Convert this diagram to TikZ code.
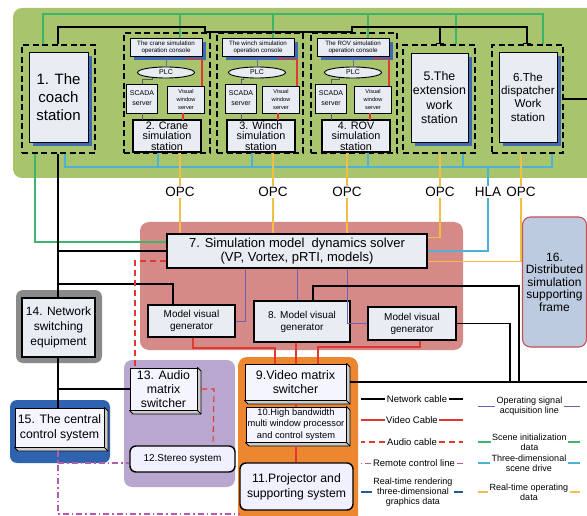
\documentclass[tikz,border=0pt]{standalone}
\usepackage{fontspec}
\setmainfont{Liberation Sans}
\usetikzlibrary{shadows,calc,arrows.meta,shapes.geometric}
\definecolor{panelgreen}{HTML}{A8C46C}
\definecolor{boxfill}{HTML}{E8ECF3}
\definecolor{shblue}{HTML}{3E6BB4}
\definecolor{panelred}{HTML}{D68A88}
\definecolor{panelpurple}{HTML}{B9A7CF}
\definecolor{panelorange}{HTML}{EC8730}
\definecolor{panelblue}{HTML}{2F63B0}
\definecolor{panelgray}{HTML}{8A8A8A}
\definecolor{fillsixteen}{HTML}{BCCBE0}
\definecolor{drawsixteen}{HTML}{C75252}
\definecolor{cgreen}{HTML}{3DB56B}
\definecolor{cteal}{HTML}{4DB3D6}
\definecolor{cyellow}{HTML}{F3BE45}
\definecolor{cred}{HTML}{E03A30}
\definecolor{cpurple}{HTML}{6C62B0}
\definecolor{cremote}{HTML}{B45BAA}
\definecolor{cdkblue}{HTML}{1E5E9C}
\definecolor{cgray}{HTML}{5A5A6A}

\newcommand{\mkstation}[9]{%
 \node[dashbox, minimum width=86pt, minimum height=120pt] (#1dash) at (#2,93) {};
 \node[stbox, minimum width=72pt, minimum height=18pt, font=\fontsize{6.2}{7.4}\selectfont] (#1con) at (#3,47.5) {#8};
 \node[plcnode] (#1plc) at (#4,72.5) {PLC};
 \node[wbox, minimum width=31pt, minimum height=29pt, font=\fontsize{7}{10}\selectfont] (#1scada) at (#5,98.5) {SCADA\\server};
 \node[wbox, minimum width=37pt, minimum height=27pt, font=\fontsize{5.6}{7.6}\selectfont] (#1vis) at (#6,99.5) {Visual\\window\\server};
 \node[wbox, line width=1.1pt, minimum width=68pt, minimum height=32pt, font=\fontsize{10.8}{10.5}\selectfont] (#1st) at (#7,136) {#9};
 \draw[opsig] (#1con.south -| #1plc.north) -- (#1plc.north);
 \draw[ingray] ($(#1plc.south)+(-14,0)$) |- ($(#1scada.north)+(0,-4)$) -- (#1scada.north);
 \draw[vid] ($(#1con.south)+(22,0)$) -- ++(0,3) -| ($(#1vis.north east)+(-3,0)$);
 \draw[vid] ($(#1vis.south)+(-3,0)$) -- ($(#1vis.south)+(-3,7)$);
 \draw[ingray] (#1scada.south) -- ++(0,7);
}
% 3D side faces of a bevelled box
\newcommand{\bevelfaces}[1]{%
 \filldraw[fill=gray!40, line width=0.8pt, line join=round] (#1.north east) -- ++(3.5,3.5) -- ($(#1.south east)+(3.5,3.5)$) -- ($(#1.south west)+(3.5,3.5)$) -- (#1.south west) -- (#1.south east) -- cycle;
 \draw[line width=0.8pt] (#1.south east) -- ++(3.5,3.5);
}

\begin{document}
\begin{tikzpicture}[x=1pt,y=-1pt,
  wbox/.style={draw, line width=0.9pt, fill=boxfill, align=center, inner sep=0.5pt},
  stbox/.style={wbox, drop shadow={shadow xshift=4pt, shadow yshift=-4pt, fill=shblue, opacity=1}},
  dashbox/.style={draw, line width=1.3pt, dash pattern=on 6pt off 3.5pt},
  bevel/.style={wbox, fill=white!96!blue, line width=1pt},
  rbox/.style={wbox, rounded corners=6pt, line width=1.4pt, fill=white!94!blue},
  plcnode/.style={draw, ellipse, fill=boxfill, line width=0.9pt, minimum width=57pt, minimum height=11pt, inner sep=0pt, font=\fontsize{7}{8}\selectfont},
  lbl/.style={font=\fontsize{13.5}{14}\selectfont, inner sep=1pt},
  lg/.style={font=\fontsize{9.5}{10.3}\selectfont, align=center, inner sep=1.5pt},
  lgtwo/.style={font=\fontsize{9}{10.3}\selectfont, align=center, inner sep=1.5pt},
  netc/.style={line width=1.1pt, black},
  grn/.style={line width=1.1pt, cgreen},
  tealc/.style={line width=1.1pt, cteal},
  yel/.style={line width=1.1pt, cyellow},
  vid/.style={line width=1.1pt, cred},
  aud/.style={line width=1.1pt, cred, dash pattern=on 6pt off 4pt},
  opsig/.style={line width=1pt, cpurple},
  remc/.style={line width=1.2pt, cremote, dash pattern=on 6pt off 3pt on 1.5pt off 3pt},
  rend/.style={line width=1.1pt, cdkblue},
  ingray/.style={line width=1pt, cgray}
]
\useasboundingbox (0,0) rectangle (587,516);
\clip (0,0) rectangle (587,516);

% panels
\fill[panelgreen, rounded corners=9pt] (13,8) rectangle (610,178);
\fill[panelred, rounded corners=9pt] (140,222) rectangle (463,350);
\fill[panelpurple, rounded corners=8pt] (124,360) rectangle (235,487);
\fill[panelorange, rounded corners=9pt] (238,357) rectangle (358,540);
\fill[panelgray, rounded corners=7pt] (16,290) rectangle (102,363);
\fill[panelblue, rounded corners=7pt] (10,400) rectangle (110,463);

% workstations
\node[dashbox, minimum width=73pt, minimum height=108pt] (coachdash) at (58.5,99) {};
\node[stbox, minimum width=59pt, minimum height=90pt, font=\fontsize{15}{18}\selectfont] (coach) at (58.5,97) {1. The\\coach\\station};

\mkstation{crane}{167}{166}{166}{142}{186}{167}{The crane simulation\\operation console}{2. Crane\\simulation\\station}
\mkstation{winch}{260}{258}{257}{241}{281}{261}{The winch simulation\\operation console}{3. Winch\\simulation\\station}
\mkstation{rov}{354}{353}{353}{331}{373}{356}{The ROV simulation\\operation console}{4. ROV\\simulation\\station}

\node[dashbox, minimum width=72pt, minimum height=108pt] (extdash) at (439,99) {};
\node[stbox, minimum width=57pt, minimum height=89pt, font=\fontsize{12.4}{14.5}\selectfont] (ext) at (439.5,97.5) {5.The\\extension\\work\\station};
\node[dashbox, minimum width=71pt, minimum height=108pt] (dispdash) at (527.5,99) {};
\node[stbox, minimum width=58pt, minimum height=90pt, font=\fontsize{11.6}{13.3}\selectfont] (disp) at (528,97) {6.The\\dispatcher\\Work\\station};

% labels
\node[lbl] (opc1) at (180,192) {OPC};
\node[lbl] (opc2) at (273,192) {OPC};
\node[lbl] (opc3) at (347,192) {OPC};
\node[lbl] (opc4) at (440,192) {OPC};
\node[lbl] (hla) at (488,192) {HLA};
\node[lbl] (opc5) at (521,192) {OPC};

% solver area
\node[wbox, line width=1.3pt, minimum width=260pt, minimum height=34pt, font=\fontsize{13}{13.5}\selectfont] (solver) at (297,251) {7. Simulation model\ \ dynamics solver\\(VP, Vortex, pRTI, models)};
\node[wbox, line width=1.3pt, minimum width=87pt, minimum height=32pt, font=\fontsize{10}{12}\selectfont] (mvga) at (191.5,321) {Model visual\\generator};
\node[wbox, line width=1.3pt, minimum width=96pt, minimum height=41pt, font=\fontsize{10}{12}\selectfont] (mvgb) at (302,321.5) {8. Model visual\\generator};
\node[wbox, line width=1.3pt, minimum width=88pt, minimum height=33pt, font=\fontsize{10}{12}\selectfont] (mvgc) at (412,323.5) {Model visual\\generator};

\node[draw=drawsixteen, fill=fillsixteen, line width=1.1pt, rounded corners=8pt, minimum width=63pt, minimum height=130pt, align=center, font=\fontsize{12}{12.5}\selectfont] (dssf) at (554.5,282) {16.\\Distributed\\simulation\\supporting\\frame};

\node[wbox, line width=1.2pt, minimum width=73pt, minimum height=59pt, font=\fontsize{12}{14.7}\selectfont] (nse) at (58.5,327.5) {14. Network\\switching\\equipment};
\node[bevel, minimum width=89pt, minimum height=39pt, font=\fontsize{12.3}{15}\selectfont] (ccs) at (59.5,427.5) {15. The central\\control system};
\bevelfaces{ccs}
\node[bevel, minimum width=67pt, minimum height=42pt, font=\fontsize{12.3}{14.2}\selectfont] (asw) at (163.5,389) {13. Audio\\matrix\\switcher};
\bevelfaces{asw}
\node[rbox, minimum width=105pt, minimum height=26pt, font=\fontsize{10}{12}\selectfont] (stereo) at (182.5,459) {12.Stereo system};

\node[bevel, minimum width=101pt, minimum height=36pt, font=\fontsize{12.4}{14.3}\selectfont] (vms) at (295.5,382) {9.Video matrix\\switcher};
\bevelfaces{vms}
\node[bevel, minimum width=100pt, minimum height=35pt, font=\fontsize{9.3}{11.3}\selectfont] (hbw) at (296,424.5) {10.High bandwidth\\multi window processor\\and control system};
\bevelfaces{hbw}
\node[rbox, minimum width=113pt, minimum height=47pt, font=\fontsize{12.2}{14.7}\selectfont] (proj) at (296.5,486.5) {11.Projector and\\supporting system};

% ---- connectors ----
% top green (scene initialization)
\draw[grn] (coachdash.north -| 43,0) -- (43,14) -- (543,14) -- (dispdash.north -| 543,0);
\draw[grn] (180,14) -- (cranecon.north -| 180,0);
\draw[grn] (273,14) -- (winchcon.north -| 273,0);
\draw[grn] (368,14) -- (rovcon.north -| 368,0);
\draw[grn] (456,14) -- (extdash.north -| 456,0);
\draw[grn] (coachdash.south -| 35,0) |- ($(solver.west)+(0,-9)$);

% top black network
\draw[netc] (coachdash.north -| 58,0) -- (58,27) -- (205,27) -- (205,32) -- (352,32) -- (352,27) -- (527,27) -- (dispdash.north -| 527,0);
\draw[netc, -{Bar[width=8pt]}] (440,27) -- (extdash.north -| 440,0);
\draw[netc, -{Bar[width=8pt]}] (527,30) -- (dispdash.north -| 527,0);
\draw[netc] (dispdash.east) -- (600,99);

% teal bus (three-dimensional scene drive)
\draw[tealc] (coachdash.south -| 65,0) -- (65,167) -- (552,167) -- (dispdash.south -| 552,0);
\draw[tealc] (cranest.south -| 158,0) -- (158,167);
\draw[tealc] (winchst.south -| 252,0) -- (252,167);
\draw[tealc] (rovst.south -| 368,0) -- (368,167);
\draw[tealc] (extdash.south -| 463,0) -- (463,167);
\draw[tealc] (hla.north |- 0,167) -- (hla.north);
\draw[tealc] (hla.south) |- (solver.east);

% yellow (real-time operating data)
\draw[yel] (cranest.south -| opc1.north) -- (opc1.north);
\draw[yel] (opc1.south) -- (solver.north -| opc1.south);
\draw[yel] (winchst.south -| opc2.north) -- (opc2.north);
\draw[yel] (opc2.south) -- (solver.north -| opc2.south);
\draw[yel] (rovst.south -| opc3.north) -- (opc3.north);
\draw[yel] (opc3.south) -- (solver.north -| opc3.south);
\draw[yel] (extdash.south -| opc4.north) -- (opc4.north);
\draw[yel] (opc4.south) |- ($(solver.north east)+(0,4)$);
\draw[yel] (dispdash.south -| opc5.north) -- (opc5.north);
\draw[yel] (opc5.south) |- ($(solver.south east)+(0,-7)$);

% network from coach
\draw[netc] (coachdash.south -| 58,0) -- (nse.north -| 58,0);
\draw[netc] (solver.west -| 58,0) -- (solver.west);
\draw[netc] (58,284) -| ($(mvga.north)+(-18.5,0)$);
\draw[netc] (nse.south -| 58,0) -- (ccs.north -| 58,0);
\draw[netc] (asw.west -| 58,0) -- (asw.west);

% solver to generators (operating signal)
\draw[opsig] ($(solver.south)+(-52,0)$) |- (mvga.east);
\draw[opsig] (solver.south) -- (solver.south |- mvgb.north);
\draw[opsig] ($(solver.south)+(50,0)$) |- (mvgc.west);

% network from generators
\draw[netc] ($(mvgb.north)+(11,0)$) |- (519,286) -- (519,382);
\draw[netc] (mvgc.east) -| (510,382);
\draw[netc] ($(vms.east)+(3.5,0)$) -- (600,382);

% video cables
\draw[vid] (mvga.south -| 193,0) -- (193,348) -- (275,348) -- (vms.north -| 275,0);
\draw[vid] (mvgb.south -| 296,0) -- (vms.north -| 296,0);
\draw[vid] (mvgc.south -| 420,0) -- (420,347) -- (318,347) -- (vms.north -| 318,0);
\draw[vid] ($(vms.south -| 296,0)+(0,3.5)$) -- (hbw.north -| 296,0);
\draw[vid] ($(hbw.south -| 296,0)+(0,3.5)$) -- (proj.north -| 296,0);

% audio cables
\draw[aud] ($(solver.west)+(0,10)$) -| (asw.north -| 135,0);
\draw[aud] ($(asw.east)+(3.5,0)$) -- ++(13,0) -- (stereo.north -| 213,0);

% remote control
\draw[remc] ($(ccs.south -| 58,0)+(0,3.5)$) -- (58,514) -- (240,514);
\draw[remc] (58,463) -- (stereo.west |- 58,463);

% ---- legend ----
\node[lg] (lgnet) at (417,399) {Network cable};
\draw[netc] (lgnet.west) -- (361,399); \draw[netc] (lgnet.east) -- (463,399);
\node[lg] (lgvid) at (412,420) {Video Cable};
\draw[vid] (lgvid.west) -- (361,420); \draw[vid] (lgvid.east) -- (463,420);
\node[lg] (lgaud) at (412,442) {Audio cable};
\draw[aud] (lgaud.west) -- (361,442); \draw[aud] (lgaud.east) -- (463,442);
\node[lg] (lgrem) at (414,463) {Remote control line};
\draw[remc, line width=1pt] (lgrem.west) -- (361,463); \draw[remc, line width=1pt] (lgrem.east) -- (463,463);
\node[lgtwo] (lgrend) at (413,492) {Real-time rendering\\three-dimensional\\graphics data};
\draw[rend] (lgrend.west) -- (361,492); \draw[rend] (lgrend.east) -- (463,492);

\node[lgtwo] (lgop) at (529.5,406) {Operating signal\\acquisition line};
\draw[opsig] (lgop.west) -- (478,406); \draw[opsig] (lgop.east) -- (580,406);
\node[lgtwo] (lgscene) at (529.5,442) {Scene initialization\\data};
\draw[grn] (lgscene.west) -- (478,442); \draw[grn] (lgscene.east) -- (580,442);
\node[lgtwo] (lgthree) at (529,463) {Three-dimensional\\scene drive};
\draw[tealc] (lgthree.west) -- (478,463); \draw[tealc] (lgthree.east) -- (580,463);
\node[lgtwo] (lgrt) at (529,492) {Real-time operating\\data};
\draw[yel] (lgrt.west) -- (478,492); \draw[yel] (lgrt.east) -- (580,492);
\end{tikzpicture}
\end{document}
